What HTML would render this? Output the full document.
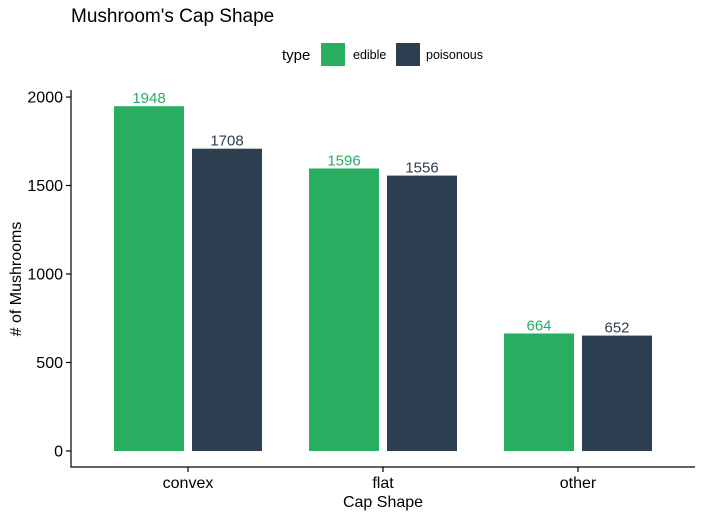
<!DOCTYPE html>
<html><head><meta charset="utf-8"><style>
body{margin:0;background:#fff;font-family:"Liberation Sans",sans-serif}
</style></head><body>
<svg id="chart" width="704" height="519" xmlns="http://www.w3.org/2000/svg" font-family="Liberation Sans, sans-serif">
<text x="71" y="22" font-size="19" fill="#000">Mushroom's Cap Shape</text>
<g>
<text x="282" y="60" font-size="15">type</text>
<rect x="321" y="43" width="24" height="23" fill="#27ae60"/>
<text x="353" y="59" font-size="12.5">edible</text>
<rect x="396" y="43" width="24" height="23" fill="#2c3e50"/>
<text x="426" y="59" font-size="12.5">poisonous</text>
</g>
<g id="plot"></g>
<line x1="71" y1="90" x2="71" y2="467.5" stroke="#000" stroke-width="1.2"/>
<line x1="70.5" y1="467" x2="695" y2="467" stroke="#000" stroke-width="1.2"/>
<text x="383" y="507" font-size="16" text-anchor="middle">Cap Shape</text>
<text transform="translate(21,279) rotate(-90)" font-size="16" text-anchor="middle"># of Mushrooms</text>
</svg>
<script>
const categories=["convex","flat","other"];
const edible=[1948,1596,664];
const poisonous=[1708,1556,652];
const yTicks=[0,500,1000,1500,2000];
const NS="http://www.w3.org/2000/svg";
const g=document.getElementById('plot');
function y(v){return 451-v*0.177;}
function xc(i){return 188+i*195;}
function mk(t,a){const e=document.createElementNS(NS,t);for(const k in a)e.setAttribute(k,a[k]);g.appendChild(e);return e;}
yTicks.forEach(t=>{
 const l=mk('line',{x1:66,x2:71,y1:y(t),y2:y(t),stroke:'#000','stroke-width':1.2});
 
 
 const tx=mk('text',{x:63,y:y(t)+5.5,'font-size':16,'text-anchor':'end',fill:'#000'});
 tx.textContent=t;
 
 
});
categories.forEach((c,i)=>{
 const series=[[edible[i],'#27ae60',-74,'edible'],[poisonous[i],'#2c3e50',4,'poisonous']];
 series.forEach(([v,col,off,nm])=>{
  const r=mk('rect',{x:xc(i)+off,y:y(v),width:70,height:451-y(v),fill:col});
  
  
  const t=mk('text',{x:xc(i)+off+35,y:y(v)-3,'font-size':15,'text-anchor':'middle',fill:col});
  t.textContent=v;
  
  
 });
 const tk=mk('line',{x1:xc(i),x2:xc(i),y1:467,y2:472,stroke:'#000','stroke-width':1.2});
 
 
 const lb=mk('text',{x:xc(i),y:488,'font-size':16,'text-anchor':'middle'});
 lb.textContent=c;
 
 
});
</script>
</body></html>
